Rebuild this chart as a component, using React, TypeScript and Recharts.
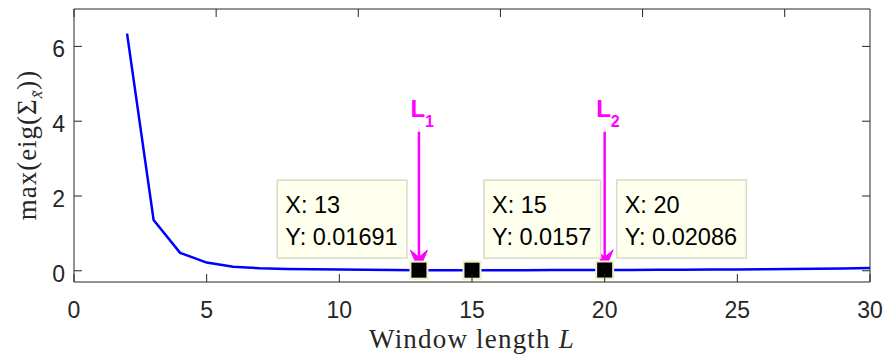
import React from 'react';
import { ComposedChart, Line, Scatter, XAxis, YAxis, ReferenceLine } from 'recharts';

// Largest eigenvalue of the covariance matrix versus window length
const windowLengths = [2, 3, 4, 5, 6, 7, 8, 9, 10, 11, 12, 13, 14, 15, 16, 17, 18, 19, 20, 21, 22, 23, 24, 25, 26, 27, 28, 29, 30];
const maxEigenvalues = [6.34, 1.36, 0.48, 0.22, 0.11, 0.065, 0.05, 0.04, 0.032, 0.026, 0.021, 0.01691, 0.0158, 0.0157, 0.0162, 0.0172, 0.0185, 0.0197, 0.02086, 0.023, 0.026, 0.029, 0.033, 0.037, 0.042, 0.048, 0.055, 0.063, 0.072];

const xTicks = [0, 5, 10, 15, 20, 25, 30];
const yTicks = [0, 2, 4, 6];

// Data tips
const tipLengths = [13, 15, 20];
const tipValues = [0.01691, 0.0157, 0.02086];

// Selected window lengths L1, L2
const cutoffLengths = [13, 20];
const cutoffValues = [0.01691, 0.02086];
const cutoffSubscripts = ['1', '2'];
const cutoffArrowTop = 3.72;

const lineData = windowLengths.map((L, i) => ({ L, v: maxEigenvalues[i] }));
const tipData = tipLengths.map((L, i) => ({ L, v: tipValues[i] }));

const AXIS_COLOR = '#262626';
const SANS = '"Liberation Sans", Arial, Helvetica, sans-serif';
const SERIF = '"Liberation Serif", "Times New Roman", serif';
const MAGENTA = '#ff00ff';
const TICK_LEN = 8;

const TIP_SIDE: Record<number, 'left' | 'right'> = { 13: 'left', 15: 'right', 20: 'right' };

// Approximate Arial advance widths (em)
const charWidth = (c: string) => {
  if (c >= '0' && c <= '9') return 0.556;
  if (c === 'X' || c === 'Y') return 0.667;
  return 0.278;
};
const textWidth = (s: string, size: number) => s.split('').reduce((a, c) => a + charWidth(c), 0) * size;

const BottomTick = (props: any) => {
  const { x, y, payload } = props;
  return (
    <g>
      <line x1={x} y1={y} x2={x} y2={y - TICK_LEN} stroke={AXIS_COLOR} strokeWidth={1} />
      <text x={x} y={y + 36} textAnchor="middle" fontFamily={SANS} fontSize={23} fill={AXIS_COLOR}>
        {payload.value}
      </text>
    </g>
  );
};

const TopTick = (props: any) => {
  const { x, y } = props;
  return <line x1={x} y1={y} x2={x} y2={y + TICK_LEN} stroke={AXIS_COLOR} strokeWidth={1} />;
};

const LeftTick = (props: any) => {
  const { x, y, payload } = props;
  return (
    <g>
      <line x1={x} y1={y} x2={x + TICK_LEN} y2={y} stroke={AXIS_COLOR} strokeWidth={1} />
      <text x={x - 9} y={y + 11} textAnchor="end" fontFamily={SANS} fontSize={23} fill={AXIS_COLOR}>
        {payload.value}
      </text>
    </g>
  );
};

const RightTick = (props: any) => {
  const { x, y } = props;
  return <line x1={x} y1={y} x2={x - TICK_LEN} y2={y} stroke={AXIS_COLOR} strokeWidth={1} />;
};

const DataTip = (props: any) => {
  const { cx, cy, payload } = props;
  if (cx == null || cy == null) return null;
  const fs = 23.5;
  const l1 = `X: ${payload.L}`;
  const l2 = `Y: ${payload.v}`;
  const w = Math.max(textWidth(l1, fs), textWidth(l2, fs)) + 16;
  const h = 78;
  const side = TIP_SIDE[payload.L] ?? 'right';
  const left = side === 'left' ? cx - 12 - w : cx + 12;
  const top = cy - 90;
  return (
    <g>
      <rect x={left} y={top} width={w} height={h} fill="#ffffee" stroke="#d9d9cc" strokeWidth={1.5} />
      <text x={left + 8} y={top + 33} fontFamily={SANS} fontSize={fs} fill="#000">{l1}</text>
      <text x={left + 8} y={top + 65} fontFamily={SANS} fontSize={fs} fill="#000">{l2}</text>
      <rect x={cx - 8.5} y={cy - 8.5} width={17} height={17} fill="#000" stroke="#f0efc4" strokeWidth={2} />
    </g>
  );
};

const CutoffArrow = (sub: string) => (props: any) => {
  const { x1, y1, x2, y2 } = props;
  if (x1 == null) return null;
  const x = x1;
  const yTop = Math.min(y1, y2);
  const yTip = Math.max(y1, y2);
  const headLen = 20;
  const headHalf = 8.5;
  return (
    <g>
      <line x1={x} y1={yTop} x2={x} y2={yTip - 10} stroke={MAGENTA} strokeWidth={2.5} />
      <polygon
        points={`${x},${yTip} ${x - headHalf},${yTip - headLen} ${x},${yTip - 13} ${x + headHalf},${yTip - headLen}`}
        fill={MAGENTA}
        stroke={MAGENTA}
        strokeWidth={1}
        strokeLinejoin="miter"
      />
      <text x={x - 8.5} y={yTop - 15} fontFamily={SANS} fontWeight="bold" fontSize={24} fill={MAGENTA}>
        L
        <tspan dy={10} fontSize={16}>{sub}</tspan>
      </text>
    </g>
  );
};

export default function App() {
  return (
    <div style={{ position: 'absolute', left: 0, top: 0, width: 885, height: 356, background: '#fff' }}>
      <ComposedChart
        width={885}
        height={356}
        data={lineData}
        margin={{ top: 8, right: 14, bottom: 73, left: 73 }}
      >
        <XAxis
          xAxisId="bottom"
          dataKey="L"
          type="number"
          domain={[0, 30]}
          ticks={xTicks}
          allowDataOverflow
          height={1}
          tickSize={0}
          tickMargin={0}
          tickLine={false}
          axisLine={{ stroke: AXIS_COLOR, strokeWidth: 1 }}
          tick={<BottomTick />}
          interval={0}
        />
        <XAxis
          xAxisId="top"
          orientation="top"
          type="number"
          domain={[0, 30]}
          ticks={xTicks}
          allowDataOverflow
          height={1}
          tickSize={0}
          tickMargin={0}
          tickLine={false}
          axisLine={{ stroke: AXIS_COLOR, strokeWidth: 1 }}
          tick={<TopTick />}
          interval={0}
        />
        <YAxis
          yAxisId="left"
          type="number"
          domain={[-0.3, 7]}
          ticks={yTicks}
          allowDataOverflow
          width={1}
          tickSize={0}
          tickMargin={0}
          tickLine={false}
          axisLine={{ stroke: AXIS_COLOR, strokeWidth: 1 }}
          tick={<LeftTick />}
          interval={0}
        />
        <YAxis
          yAxisId="right"
          orientation="right"
          type="number"
          domain={[-0.3, 7]}
          ticks={yTicks}
          allowDataOverflow
          width={1}
          tickSize={0}
          tickMargin={0}
          tickLine={false}
          axisLine={{ stroke: AXIS_COLOR, strokeWidth: 1 }}
          tick={<RightTick />}
          interval={0}
        />
        <Line
          xAxisId="bottom"
          yAxisId="left"
          type="linear"
          dataKey="v"
          stroke="#0000ff"
          strokeWidth={2.5}
          dot={false}
          activeDot={false}
          isAnimationActive={false}
        />
        <Scatter
          xAxisId="bottom"
          yAxisId="left"
          data={tipData}
          dataKey="v"
          shape={<DataTip />}
          isAnimationActive={false}
        />
        {cutoffLengths.map((L, i) => (
          <ReferenceLine
            key={L}
            xAxisId="bottom"
            yAxisId="left"
            segment={[{ x: L, y: cutoffArrowTop }, { x: L, y: cutoffValues[i] }]}
            shape={CutoffArrow(cutoffSubscripts[i])}
            ifOverflow="visible"
          />
        ))}
        <text x={472} y={348} textAnchor="middle" fontFamily={SERIF} fontSize={27} letterSpacing={1.2} fill={AXIS_COLOR}>
          Window length <tspan fontStyle="italic">L</tspan>
        </text>
        <text
          transform="translate(36,145) rotate(-90)"
          textAnchor="middle"
          fontFamily={SERIF}
          fontSize={27}
          letterSpacing={1}
          fill={AXIS_COLOR}
        >
          max(eig(Σ
          <tspan dy={6} fontSize={17} fontStyle="italic">x̃</tspan>
          <tspan dy={-6}>))</tspan>
        </text>
      </ComposedChart>
    </div>
  );
}
